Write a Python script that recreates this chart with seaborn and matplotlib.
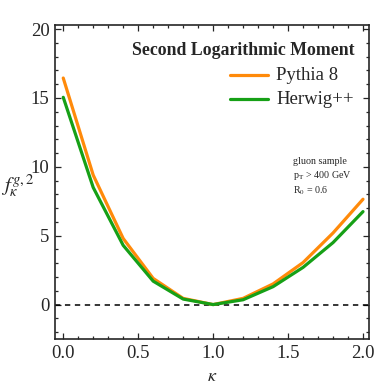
import matplotlib
matplotlib.use("Agg")
import matplotlib.pyplot as plt
import seaborn as sns
import pandas as pd
from matplotlib.ticker import MultipleLocator

kappa = [0.0, 0.2, 0.4, 0.6, 0.8, 1.0, 1.2, 1.4, 1.6, 1.8, 2.0]
pythia = [16.45, 9.4, 4.8, 1.9, 0.45, 0.0, 0.45, 1.5, 3.05, 5.2, 7.65]
herwig = [15.05, 8.5, 4.3, 1.7, 0.4, 0.0, 0.35, 1.3, 2.7, 4.5, 6.75]
series_names = ["Pythia 8", "Herwig++"]
colors = ["#FF8A0A", "#16A016"]

df = pd.DataFrame({
    "kappa": kappa * 2,
    "value": pythia + herwig,
    "gen": [series_names[0]] * len(kappa) + [series_names[1]] * len(kappa),
})

sns.set_style("ticks")
plt.rcParams["font.family"] = ["Liberation Serif", "DejaVu Serif"]
plt.rcParams["mathtext.fontset"] = "stix"

fig = plt.figure(figsize=(3.82, 3.87), dpi=100)
ax = fig.add_axes([55 / 382, 1 - 339 / 387, (369 - 55) / 382, (339 - 25) / 387])

sns.lineplot(data=df, x="kappa", y="value", hue="gen", palette=colors,
             linewidth=2.3, ax=ax, legend=False)
ax.axhline(0, color="black", linestyle=(0, (3.5, 3)), linewidth=1.1, zorder=1)

ax.set_xlim(-0.055, 2.04)
ax.set_ylim(-2.5, 20.3)
ax.xaxis.set_major_locator(MultipleLocator(0.5))
ax.xaxis.set_minor_locator(MultipleLocator(0.1))
ax.yaxis.set_major_locator(MultipleLocator(5))
ax.yaxis.set_minor_locator(MultipleLocator(1))
ax.set_xticks([0.0, 0.5, 1.0, 1.5, 2.0])
ax.set_xticklabels(["0.0", "0.5", "1.0", "1.5", "2.0"])
ax.tick_params(which="both", direction="in", top=True, right=True, labelsize=13.5, width=0.9)
ax.tick_params(which="major", length=4.5, pad=4)
ax.tick_params(which="minor", length=2.5)
for s in ax.spines.values():
    s.set_linewidth(1.2)

ax.set_xlabel(r"$\kappa$", fontsize=13, va="center")
ax.xaxis.set_label_coords(0.5, -0.118)
ax.set_ylabel(r"$f_{\kappa}^{g,2}$", fontsize=15, rotation=0, va="center", ha="center")
ax.yaxis.set_label_coords(-0.12, 0.49)

# legend-like block
ax.text(0.955, 0.92, "Second Logarithmic Moment", transform=ax.transAxes,
        ha="right", va="center", fontsize=12.8, fontweight="bold")
ax.plot([0.557, 0.678], [0.84, 0.84], transform=ax.transAxes, color=colors[0], lw=2.3)
ax.plot([0.557, 0.678], [0.763, 0.763], transform=ax.transAxes, color=colors[1], lw=2.3)
ax.text(0.704, 0.84, series_names[0], transform=ax.transAxes, ha="left", va="center", fontsize=13.5)
ax.text(0.704, 0.763, series_names[1], transform=ax.transAxes, ha="left", va="center", fontsize=13.5)

ax.text(0.757, 0.58, "gluon sample\n" + r"p$_\mathrm{T}$ > 400 GeV" + "\n" + r"R$_0$ = 0.6",
        transform=ax.transAxes, ha="left", va="top", fontsize=7.2, linespacing=1.3)

fig.savefig("out.png", dpi=100)
